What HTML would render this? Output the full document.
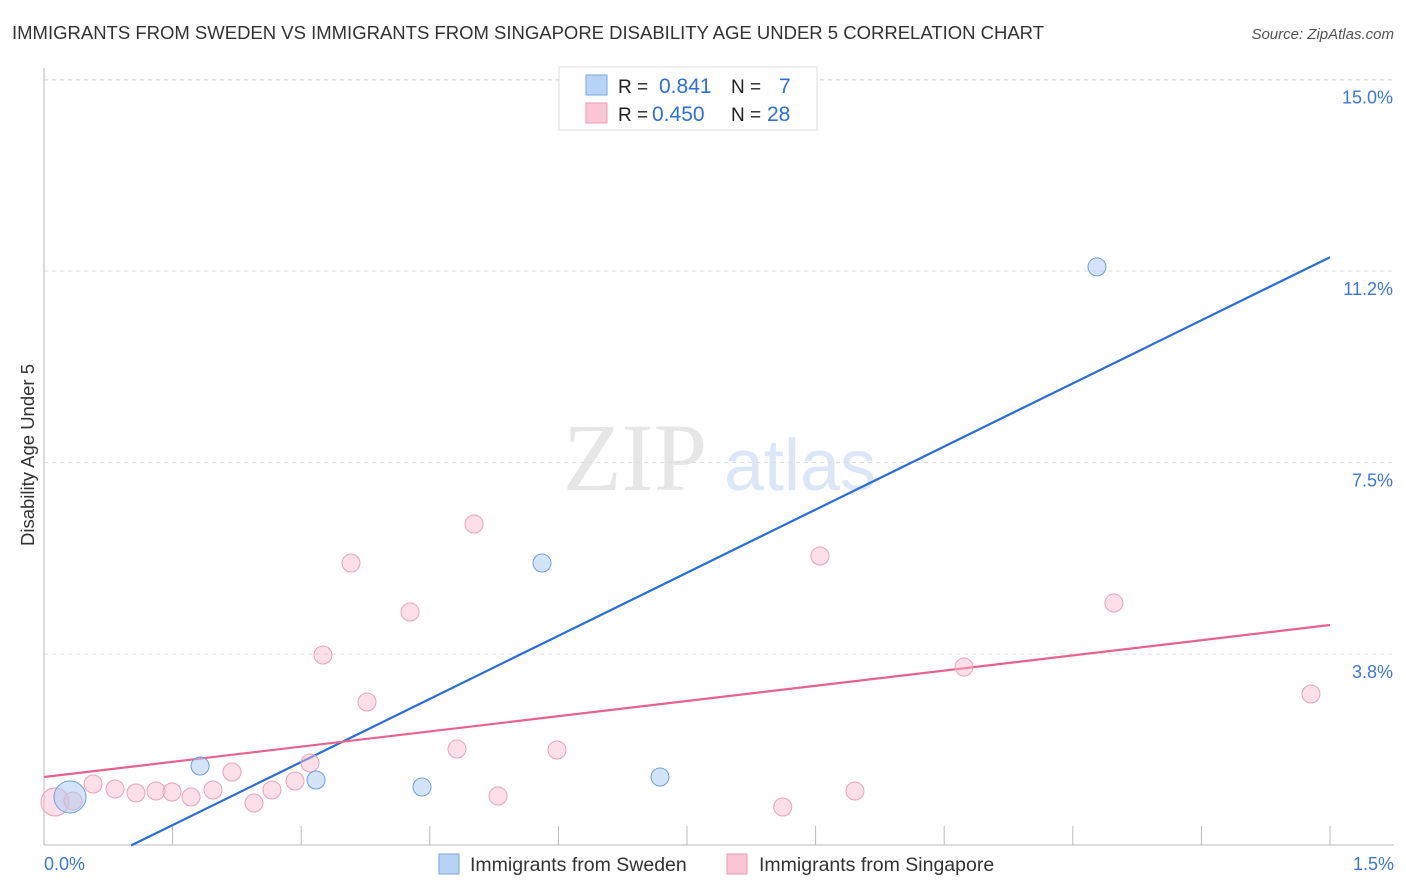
<!DOCTYPE html>
<html><head><meta charset="utf-8"><style>
body{margin:0;background:#fff;font-family:"Liberation Sans",sans-serif}
svg{display:block}
</style></head><body>
<svg id="chart" width="1406" height="892" xmlns="http://www.w3.org/2000/svg">
<text x="12" y="39" font-size="18.5" fill="#333">IMMIGRANTS FROM SWEDEN VS IMMIGRANTS FROM SINGAPORE DISABILITY AGE UNDER 5 CORRELATION CHART</text>
<text x="1394" y="39" font-size="15" fill="#555" font-style="italic" text-anchor="end">Source: ZipAtlas.com</text>
<text x="34" y="455" font-size="18.5" fill="#333" text-anchor="middle" transform="rotate(-90 34 455)">Disability Age Under 5</text>
<g>
<text x="635" y="490" font-size="96" fill="#e6e6e6" font-family="Liberation Serif,serif" text-anchor="middle">ZIP</text>
<text x="800" y="490" font-size="72" fill="#dbe7f6" text-anchor="middle">atlas</text>
</g>
<g id="grid"></g><g id="axes"></g><g id="lines"></g><g id="pts"></g>
<g>
<rect x="559" y="67" width="258" height="63" fill="#fff" stroke="#ddd"/>
<rect x="586" y="75" width="21" height="20" fill="#b8d3f5" stroke="#7aa7e0"/>
<rect x="586" y="103" width="21" height="20" fill="#fac5d4" stroke="#ee9ab3"/>
<text x="618" y="93" font-size="19" fill="#222">R = </text><text x="659" y="93" font-size="21" fill="#2f6fd6">0.841</text>
<text x="731" y="93" font-size="19" fill="#222">N = </text><text x="779" y="93" font-size="21" fill="#2f6fd6">7</text>
<text x="618" y="121" font-size="19" fill="#222">R = </text><text x="652" y="121" font-size="21" fill="#2f6fd6">0.450</text>
<text x="731" y="121" font-size="19" fill="#222">N = </text><text x="767" y="121" font-size="21" fill="#2f6fd6">28</text>
</g>
<g>
<rect x="439" y="854" width="20" height="20" fill="#b8d3f5" stroke="#7aa7e0"/>
<text x="470" y="871" font-size="19.5" fill="#333">Immigrants from Sweden</text>
<rect x="727" y="854" width="20" height="20" fill="#fac5d4" stroke="#ee9ab3"/>
<text x="759" y="871" font-size="19.5" fill="#333">Immigrants from Singapore</text>
</g>
</svg>
<script>
const yTicks=[3.75,7.5,11.25,15];
const yTickLabels=["3.8%","7.5%","11.2%","15.0%"];
const xTickLabels=["0.0%","1.5%"];
const swedenX=[0.0303,0.182,0.3173,0.4409,0.5809,0.7185,1.2282];
const swedenY=[0.95,1.557,1.283,1.146,5.532,1.341,11.33];
const swedenR=[16,9,9,9,9,9,9];
const singX=[0.0128,0.0338,0.0572,0.0828,0.1073,0.1306,0.1493,0.1715,0.1971,0.2193,0.2449,0.2659,0.2928,0.3103,0.3254,0.3581,0.3768,0.4269,0.4817,0.5016,0.5296,0.5984,0.8617,0.9051,0.9459,1.0731,1.248,1.4778];
const singY=[0.852,0.871,1.204,1.106,1.028,1.067,1.048,0.95,1.087,1.439,0.832,1.087,1.263,1.615,3.73,5.532,2.81,4.572,1.889,6.296,0.969,1.87,0.754,5.669,1.067,3.495,4.748,2.967];
const swedenTrend=[[0.1015,0],[1.5,11.52]];
const singTrend=[[0,1.341],[1.5,4.318]];
const NS="http://www.w3.org/2000/svg";
const X=v=>44+v*857.33, Y=v=>845.5-v*51.067;
function mk(t,a,p){const e=document.createElementNS(NS,t);for(const k in a)e.setAttribute(k,a[k]);document.getElementById(p).appendChild(e);return e;}
yTicks.forEach((t,i)=>{
 const g=mk('line',{x1:44,x2:1394,y1:Y(t),y2:Y(t),stroke:'#ddd','stroke-dasharray':'4,4'},'grid');
 
 
 const l=mk('text',{x:1393,y:Y(t)+24,'font-size':18,fill:'#3d78d8','text-anchor':'end'},'axes');l.textContent=yTickLabels[i];
 
 
});
const tg=mk('line',{x1:44,x2:1394,y1:80,y2:80,stroke:'#ddd','stroke-dasharray':'4,4'},'grid');


const ax=mk('line',{x1:44,x2:44,y1:68,y2:845,stroke:'#bbb'},'axes');


const bx=mk('line',{x1:44,x2:1394,y1:845,y2:845,stroke:'#bbb'},'axes');


for(let i=1;i<=10;i++){const v=i*0.15;const t=mk('line',{x1:X(v),x2:X(v),y1:826,y2:845,stroke:'#bbb'},'axes');
 
 }
[[0,'start'],[1.5,'end']].forEach((p,i)=>{const t=mk('text',{x:p[0]==0?44:1394,y:870,'font-size':18,fill:'#3d78d8','text-anchor':p[1]},'axes');t.textContent=xTickLabels[i];
 
 });
singX.forEach((x,i)=>{const c=mk('circle',{cx:X(x),cy:Y(singY[i]),r:i==0?14:9,fill:'rgba(248,184,204,0.45)',stroke:'#eaa3b9','stroke-width':1},'pts');
 
 });
swedenX.forEach((x,i)=>{const c=mk('circle',{cx:X(x),cy:Y(swedenY[i]),r:swedenR[i],fill:'rgba(170,201,242,0.5)',stroke:'#6e9fdc','stroke-width':1},'pts');
 
 });
const l1=mk('line',{x1:X(swedenTrend[0][0]),y1:Y(swedenTrend[0][1]),x2:X(swedenTrend[1][0]),y2:Y(swedenTrend[1][1]),stroke:'#2a6fd6','stroke-width':2.2},'lines');


const l2=mk('line',{x1:X(singTrend[0][0]),y1:Y(singTrend[0][1]),x2:X(singTrend[1][0]),y2:Y(singTrend[1][1]),stroke:'#e8628e','stroke-width':2.2},'lines');


</script>
</body></html>
